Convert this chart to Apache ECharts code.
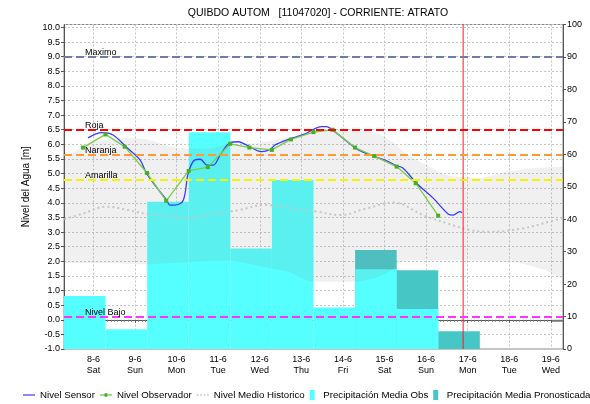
<!DOCTYPE html>
<html lang="es">
<head>
  <meta charset="UTF-8">
  <title>QUIBDO AUTOM</title>
  <style>
    html,
    body,
    #main {
      margin: 0;
      padding: 0;
    }

    #main {
      width: 590px;
      height: 404px;
      background: #fff;
    }
  </style>
</head>
<body>
  <div id="main"></div>
  <script src="https://cdn.jsdelivr.net/npm/echarts@6/dist/echarts.min.js"></script>
  <script>
    // days are June day numbers, 8.0 = 8-6 00:00
    const sensorDays = [7.87, 8.20, 8.47, 8.78, 9.12, 9.27, 9.53, 9.76, 9.84, 9.96, 10.16, 10.28, 10.44, 10.57, 10.73,
      10.88, 11.05, 11.29, 11.49, 11.65, 12.05, 12.25, 12.37, 12.69, 13.09, 13.49, 13.61, 13.77, 14.05, 14.37, 14.77,
      15.09, 15.25, 15.44, 15.77, 16.17, 16.53, 16.65, 16.81, 16.86];
    const sensorLevel = [6.22, 6.40, 6.32, 5.92, 5.47, 5.02, 4.51, 4.09, 3.92, 3.92, 4.09, 5.02, 5.47, 5.49, 5.29,
      5.29, 5.64, 6.06, 6.09, 6.00, 5.75, 5.83, 5.98, 6.17, 6.36, 6.61, 6.61, 6.47, 6.15, 5.81, 5.58,
      5.41, 5.29, 5.19, 4.67, 4.16, 3.62, 3.58, 3.70, 3.66];

    const obsDays = [7.75, 8.29, 8.75, 9.29, 9.75, 10.29, 10.75, 11.29, 11.75, 12.29, 12.75, 13.29, 13.75, 14.29,
      14.75, 15.29, 15.75, 16.29];
    const obsLevel = [5.89, 6.34, 5.92, 5.02, 4.07, 5.09, 5.22, 6.02, 5.89, 5.81, 6.17, 6.42, 6.50, 5.89,
      5.60, 5.24, 4.67, 3.56];

    const histDays = [7.30, 7.76, 8.32, 8.80, 9.28, 9.76, 10.28, 10.97, 11.53, 12.09, 12.77, 13.37, 13.93, 14.57,
      15.21, 15.93, 16.50, 17.06, 17.54, 18.34, 18.98, 19.30];
    const histLevel = [3.44, 3.64, 3.87, 3.76, 3.62, 3.55, 3.47, 3.64, 3.76, 3.93, 3.81, 3.70, 3.58, 3.81,
      4.01, 3.58, 3.30, 3.07, 3.01, 3.13, 3.36, 3.47];

    const bandDays = [7.29, 8.0, 8.8, 9.3, 10.0, 10.8, 11.25, 11.96, 12.73, 13.25, 14.29, 14.8, 15.2, 15.4, 15.6,
      16.5, 17.3, 17.94, 18.33, 18.86, 19.29];
    const bandUpper = [5.53, 6.08, 6.22, 6.17, 5.88, 5.85, 6.02, 6.05, 6.25, 6.42, 6.49, 6.40, 6.08, 5.80, 5.60,
      4.95, 4.85, 5.06, 5.15, 5.21, 5.23];
    const bandLower = [1.94, 1.94, 1.92, 1.90, 1.95, 2.01, 2.03, 1.85, 1.62, 1.30, 1.30, 1.45, 1.70, 1.98, 2.04,
      2.04, 2.02, 1.98, 1.92, 1.70, 1.36];

    // daily rain, each bar runs from 07:00 of its day to 07:00 of the next
    const precipObsDays = [7, 8, 9, 10, 11, 12, 13, 14, 15];
    const precipObs = [16.3, 6.1, 45.4, 66.8, 31.0, 52.1, 12.8, 24.6, 12.3];
    const precipFcDays = [14, 15, 16];
    const precipFc = [30.5, 24.3, 5.5];

    const thresholdNames = ['Maximo', 'Roja', 'Naranja', 'Amarilla', 'Nivel Bajo'];
    const thresholdLevels = [9.0, 6.5, 5.65, 4.78, 0.1];
    const nowDay = 16.89;

    const weekDays = ['Sun', 'Mon', 'Tue', 'Wed', 'Thu', 'Fri', 'Sat'];

    const FONT = '"Liberation Sans", Arial, sans-serif';
    const DAY = 864e5;
    const base = new Date(2024, 5, 1).getTime();
    const t = d => base + (d - 1) * DAY;
    const pairs = (days, vals) => days.map((d, i) => [t(d), vals[i]]);

    const lineColors = {
      'Maximo': '#6e7ca8',
      'Roja': '#ff0000',
      'Naranja': '#ff9a33',
      'Amarilla': '#f4f400',
      'Nivel Bajo': '#ff33ff'
    };

    const barSeries = (name, days, values, color) => ({
      name: name,
      type: 'custom',
      yAxisIndex: 1,
      itemStyle: { color: color },
      data: days.map((d, i) => [t(d + 7 / 24), t(d + 1 + 7 / 24), values[i]]),
      encode: { x: [0, 1], y: 2 },
      renderItem: (params, api) => {
        const p0 = api.coord([api.value(0), api.value(2)]);
        const p1 = api.coord([api.value(1), 0]);
        return {
          type: 'rect',
          shape: { x: p0[0], y: p0[1], width: p1[0] - p0[0], height: p1[1] - p0[1] },
          style: { fill: color }
        };
      }
    });

    const myChart = echarts.init(document.getElementById('main'));
    const option = {
      animation: false,
      textStyle: { fontFamily: FONT },
      title: {
        text: 'QUIBDO AUTOM   [11047020] - CORRIENTE: ATRATO',
        left: 313,
        textAlign: 'center',
        top: 3,
        textStyle: { fontSize: 10.5, fontWeight: 'normal', color: '#000', fontFamily: FONT }
      },
      grid: {
        left: 64,
        right: 27,
        top: 24.5,
        bottom: 55,
        show: true,
        borderColor: '#8a8a8a',
        borderWidth: 1
      },
      legend: {
        left: 23,
        top: 390,
        padding: 0,
        width: 1200,
        itemWidth: 12,
        itemHeight: 10,
        itemGap: 5,
        textStyle: { fontSize: 9.7, color: '#000', fontFamily: FONT },
        data: [
          { name: 'Nivel Sensor', icon: 'path://M0 0H13V1.3H0Z' },
          { name: 'Nivel Observador', icon: 'path://M0 4.4H5V3H8V4.4H13V5.6H8V7H5V5.6H0Z' },
          { name: 'Nivel Medio Historico', icon: 'path://M0 0H2V1.6H0ZM4 0H6V1.6H4ZM8 0H10V1.6H8ZM12 0H14V1.6H12Z' },
          { name: 'Precipitación Media Obs', icon: 'path://M0 0H6V12H0Z' },
          { name: 'Precipitación Media Pronosticada', icon: 'path://M0 0H6V12H0Z' }
        ]
      },
      xAxis: {
        type: 'time',
        min: t(7 + 7 / 24),
        max: t(19 + 7 / 24),
        minInterval: DAY,
        maxInterval: DAY,
        axisLine: { lineStyle: { color: '#555' } },
        axisTick: { show: true, length: 3, lineStyle: { color: '#555' } },
        minorTick: { show: true, splitNumber: 12, length: 2, lineStyle: { color: '#777' } },
        axisLabel: {
          fontSize: 9,
          color: '#000',
          lineHeight: 11,
          margin: 5,
          fontFamily: FONT,
          formatter: v => {
            const d = new Date(v);
            return d.getDate() + '-' + (d.getMonth() + 1) + '\n' + weekDays[d.getDay()];
          }
        },
        splitLine: { show: true, lineStyle: { color: '#c4c4c4', type: [2, 2] } }
      },
      yAxis: [{
        type: 'value',
        position: 'left',
        min: -1,
        max: 10.1,
        interval: 0.5,
        name: 'Nivel del Agua [m]',
        nameLocation: 'middle',
        nameGap: 27,
        nameTextStyle: { fontSize: 10, color: '#000', fontFamily: FONT },
        axisLine: { show: true, lineStyle: { color: '#555' } },
        axisTick: { show: true, length: 3, lineStyle: { color: '#555' } },
        axisLabel: {
          fontSize: 9,
          color: '#000',
          margin: 4,
          fontFamily: FONT,
          showMaxLabel: false,
          formatter: v => v.toFixed(1)
        },
        splitLine: { lineStyle: { color: '#c4c4c4', type: [2, 2] } }
      }, {
        type: 'value',
        position: 'right',
        min: 0,
        max: 100,
        interval: 10,
        axisLine: { show: true, lineStyle: { color: '#555' } },
        axisTick: { show: true, length: 3, lineStyle: { color: '#555' } },
        axisLabel: { fontSize: 9, color: '#000', margin: 4, fontFamily: FONT },
        splitLine: { show: false }
      }],
      series: [
        barSeries('Precipitación Media Pronosticada', precipFcDays, precipFc, '#47c6c6'),
        barSeries('Precipitación Media Obs', precipObsDays, precipObs, '#55ffff'),
        {
          name: 'bandLow',
          type: 'line',
          stack: 'band',
          smooth: 0.2,
          symbol: 'none',
          lineStyle: { width: 0 },
          data: pairs(bandDays, bandLower)
        },
        {
          name: 'bandHigh',
          type: 'line',
          stack: 'band',
          smooth: 0.2,
          symbol: 'none',
          lineStyle: { width: 0 },
          areaStyle: { color: 'rgba(128,128,128,0.12)', opacity: 1 },
          data: pairs(bandDays, bandUpper.map((u, i) => u - bandLower[i]))
        },
        {
          name: 'Nivel Medio Historico',
          type: 'line',
          smooth: 0.4,
          symbol: 'none',
          lineStyle: { color: '#c6c6c6', width: 2, type: [2, 3] },
          itemStyle: { color: '#c6c6c6' },
          data: pairs(histDays, histLevel),
          markLine: {
            silent: true,
            symbol: ['none', 'none'],
            data: thresholdNames.map((n, i) => ({
              yAxis: thresholdLevels[i],
              lineStyle: { color: lineColors[n], type: [8, 4], width: 2 },
              label: {
                show: true,
                formatter: n,
                position: 'insideStartTop',
                distance: [21, 0],
                color: '#000',
                fontSize: 9,
                fontFamily: FONT
              }
            }))
          }
        },
        {
          name: 'ahora',
          type: 'line',
          symbol: 'none',
          lineStyle: { color: '#ff1a1a', width: 1 },
          itemStyle: { color: '#ff1a1a' },
          data: [[t(nowDay), -1], [t(nowDay), 10.1]]
        },
        {
          name: 'Nivel Sensor',
          type: 'line',
          smooth: 0.35,
          symbol: 'none',
          lineStyle: { color: '#3a3aff', width: 1.3 },
          itemStyle: { color: '#3a3aff' },
          data: pairs(sensorDays, sensorLevel)
        },
        {
          name: 'Nivel Observador',
          type: 'line',
          symbol: 'rect',
          symbolSize: 4,
          lineStyle: { color: '#7acc48', width: 1.3 },
          itemStyle: { color: '#44b022' },
          data: pairs(obsDays, obsLevel)
        }
      ]
    };

    myChart.setOption(option);
  </script>
</body>
</html>
